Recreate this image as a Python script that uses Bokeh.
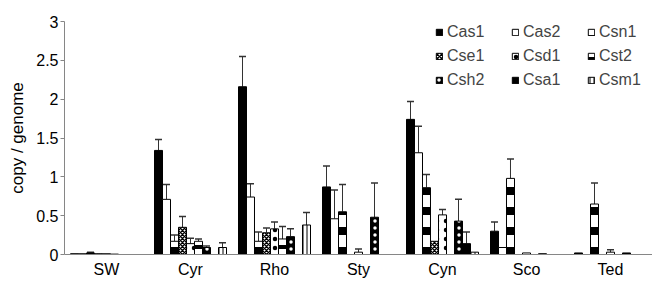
from bokeh.plotting import figure
from bokeh.models import (ColumnDataSource, FactorRange, Range1d, Whisker, TeeHead,
                          Legend, LegendItem, FixedTicker, NumeralTickFormatter)
from bokeh.transform import dodge
from bokeh.embed import file_html
from bokeh.resources import INLINE

categories = ["SW", "Cyr", "Rho", "Sty", "Cyn", "Sco", "Ted"]
genes = ["Cas1", "Cas2", "Csn1", "Cse1", "Csd1", "Cst2", "Csh2", "Csa1", "Csm1"]

cas1 = [0.01, 1.34, 2.16, 0.87, 1.74, 0.30, 0.02]
cas2 = [0.01, 0.71, 0.74, 0.46, 1.31, 0.09, 0.0]
csn1 = [0.02, 0.17, 0.17, 0.55, 0.86, 0.98, 0.65]
cse1 = [0.01, 0.35, 0.28, 0.0, 0.17, 0.0, 0.0]
csd1 = [0.01, 0.14, 0.33, 0.03, 0.51, 0.02, 0.03]
cst2 = [0.005, 0.17, 0.20, 0.0, 0.0, 0.0, 0.0]
csh2 = [0.0, 0.09, 0.23, 0.48, 0.43, 0.01, 0.02]
csa1 = [0.0, 0.0, 0.0, 0.0, 0.14, 0.0, 0.0]
csm1 = [0.0, 0.09, 0.38, 0.0, 0.03, 0.0, 0.0]

cas1_err = [0.0, 0.14, 0.39, 0.27, 0.23, 0.12, 0.0]
cas2_err = [0.0, 0.19, 0.17, 0.37, 0.34, 0.0, 0.0]
csn1_err = [0.01, 0.08, 0.12, 0.35, 0.17, 0.25, 0.27]
cse1_err = [0.0, 0.14, 0.06, 0.0, 0.0, 0.0, 0.0]
csd1_err = [0.0, 0.07, 0.09, 0.04, 0.07, 0.0, 0.03]
cst2_err = [0.0, 0.03, 0.16, 0.0, 0.0, 0.0, 0.0]
csh2_err = [0.0, 0.02, 0.10, 0.44, 0.28, 0.0, 0.0]
csa1_err = [0.0, 0.0, 0.0, 0.0, 0.15, 0.0, 0.0]
csm1_err = [0.0, 0.06, 0.16, 0.0, 0.0, 0.0, 0.0]

y_ticks = [0, 0.5, 1, 1.5, 2, 2.5, 3]
y_label = "copy / genome"

values = dict(zip(genes, [cas1, cas2, csn1, cse1, csd1, cst2, csh2, csa1, csm1]))
errors = dict(zip(genes, [cas1_err, cas2_err, csn1_err, cse1_err, csd1_err,
                          cst2_err, csh2_err, csa1_err, csm1_err]))

styles = {
    "Cas1": dict(fill_color="black"),
    "Cas2": dict(fill_color="white"),
    "Csn1": dict(fill_color="white", hatch_pattern="horizontal_line", hatch_color="black",
                 hatch_scale=20, hatch_weight=8),
    "Cse1": dict(fill_color="white", hatch_pattern="diagonal_cross", hatch_color="black",
                 hatch_scale=4, hatch_weight=1.5),
    "Csd1": dict(fill_color="white", hatch_pattern="dot", hatch_color="black",
                 hatch_scale=9, hatch_weight=1),
    "Cst2": dict(fill_color="white", hatch_pattern="horizontal_line", hatch_color="black",
                 hatch_scale=12, hatch_weight=4),
    "Csh2": dict(fill_color="black", hatch_pattern="dot", hatch_color="white",
                 hatch_scale=7, hatch_weight=2),
    "Csa1": dict(fill_color="black"),
    "Csm1": dict(fill_color="white", hatch_pattern="vertical_line", hatch_color="black",
                 hatch_scale=4, hatch_weight=1),
}

FONT = "Liberation Sans"
AXIS_COL = "#868686"

p = figure(x_range=FactorRange(*categories), y_range=Range1d(0, 3),
           width=652, height=280, output_backend="svg", toolbar_location=None,
           min_border_left=64, min_border_right=0, min_border_top=21, min_border_bottom=25)

n = len(genes)
bw = 1.0 / 10.5
legend_items = []
for j, g in enumerate(genes):
    off = (j - (n - 1) / 2) * bw
    idx = [i for i, v in enumerate(values[g]) if v > 0]
    src = ColumnDataSource(dict(cat=[categories[i] for i in idx],
                                val=[values[g][i] for i in idx]))
    r = p.vbar(x=dodge("cat", off, range=p.x_range), top="val", width=bw, source=src,
               line_color="black", line_width=1, **styles[g])
    legend_items.append(LegendItem(label=g, renderers=[r]))
    eidx = [i for i, e in enumerate(errors[g]) if e > 0]
    esrc = ColumnDataSource(dict(cat=[categories[i] for i in eidx],
                                 lo=[values[g][i] for i in eidx],
                                 hi=[values[g][i] + errors[g][i] for i in eidx]))
    w = Whisker(base=dodge("cat", off, range=p.x_range), lower="lo", upper="hi", source=esrc,
                line_color="#333333", line_width=1, lower_head=None,
                upper_head=TeeHead(size=7, line_color="#333333", line_width=1.5))
    p.add_layout(w)

legend = Legend(items=legend_items, orientation="horizontal", ncols=3,
                location=(371, 164), glyph_width=8, glyph_height=8, label_width=60,
                label_height=20, spacing=4, padding=0, margin=0, label_standoff=4,
                label_text_font=FONT, label_text_font_size="16px",
                border_line_alpha=0, background_fill_alpha=0)
p.add_layout(legend)

p.xgrid.visible = False
p.ygrid.visible = False
p.outline_line_color = None

p.yaxis.ticker = FixedTicker(ticks=y_ticks)
p.yaxis.formatter = NumeralTickFormatter(format="0.[0]")
p.yaxis.axis_line_color = AXIS_COL
p.yaxis.major_tick_line_color = AXIS_COL
p.yaxis.major_tick_out = 4
p.yaxis.major_tick_in = 0
p.yaxis.minor_tick_line_color = None
p.yaxis.major_label_standoff = 2
p.yaxis.axis_label = y_label
p.yaxis.axis_label_standoff = 6
p.yaxis.axis_label_text_font = FONT
p.yaxis.axis_label_text_font_size = "17px"
p.yaxis.axis_label_text_font_style = "normal"
p.yaxis.axis_label_text_color = "black"

p.xaxis.axis_line_color = AXIS_COL
p.xaxis.major_tick_line_color = None
p.xaxis.major_tick_out = 0
p.xaxis.major_label_standoff = 6

for ax in (p.xaxis, p.yaxis):
    ax.major_label_text_font = FONT
    ax.major_label_text_font_size = "16px"
    ax.major_label_text_color = "black"

open("out.html", "w").write(file_html(p, INLINE))
